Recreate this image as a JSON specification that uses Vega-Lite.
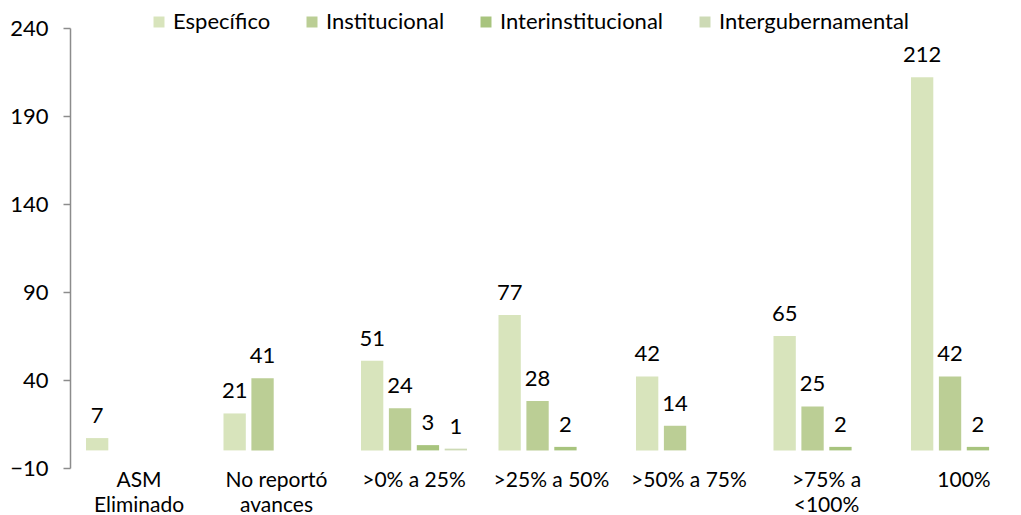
{
  "$schema": "https://vega.github.io/schema/vega-lite/v6.json",
  "width": 951,
  "height": 440,
  "autosize": "none",
  "padding": {"left": 70, "top": 28, "right": 0, "bottom": 47},
  "background": "white",
  "config": {
    "font": "Lato",
    "view": {"stroke": null},
    "axis": {"labelFont": "Lato", "labelColor": "#000000"},
    "legend": {"labelFont": "Lato", "labelColor": "#000000"}
  },
  "data": {
    "values": [
      {"cat": "ASM Eliminado", "serie": "Específico", "v": 7},
      {"cat": "No reportó avances", "serie": "Específico", "v": 21},
      {"cat": "No reportó avances", "serie": "Institucional", "v": 41},
      {"cat": ">0% a 25%", "serie": "Específico", "v": 51},
      {"cat": ">0% a 25%", "serie": "Institucional", "v": 24},
      {"cat": ">0% a 25%", "serie": "Interinstitucional", "v": 3},
      {"cat": ">0% a 25%", "serie": "Intergubernamental", "v": 1},
      {"cat": ">25% a 50%", "serie": "Específico", "v": 77},
      {"cat": ">25% a 50%", "serie": "Institucional", "v": 28},
      {"cat": ">25% a 50%", "serie": "Interinstitucional", "v": 2},
      {"cat": ">50% a 75%", "serie": "Específico", "v": 42},
      {"cat": ">50% a 75%", "serie": "Institucional", "v": 14},
      {"cat": ">75% a <100%", "serie": "Específico", "v": 65},
      {"cat": ">75% a <100%", "serie": "Institucional", "v": 25},
      {"cat": ">75% a <100%", "serie": "Interinstitucional", "v": 2},
      {"cat": "100%", "serie": "Específico", "v": 212},
      {"cat": "100%", "serie": "Institucional", "v": 42},
      {"cat": "100%", "serie": "Interinstitucional", "v": 2}
    ]
  },
  "encoding": {
    "x": {
      "field": "cat",
      "type": "nominal",
      "sort": ["ASM Eliminado", "No reportó avances", ">0% a 25%", ">25% a 50%", ">50% a 75%", ">75% a <100%", "100%"],
      "scale": {"paddingInner": 0.229, "paddingOuter": 0.0727, "align": 0.8},
      "axis": {
        "title": null,
        "domain": false,
        "ticks": false,
        "labelAngle": 0,
        "labelFontSize": 21,
        "labelPadding": 1,
        "labelOverlap": false,
        "labelLimit": 300,
        "labelLineHeight": 25,
        "labelExpr": "datum.value == 'ASM Eliminado' ? ['ASM', 'Eliminado'] : datum.value == 'No reportó avances' ? ['No reportó', 'avances'] : datum.value == '>75% a <100%' ? ['>75% a', '<100%'] : datum.value"
      }
    },
    "xOffset": {
      "field": "serie",
      "type": "nominal",
      "sort": ["Específico", "Institucional", "Interinstitucional", "Intergubernamental"],
      "scale": {"domain": ["Específico", "Institucional", "Interinstitucional", "Intergubernamental"], "paddingInner": 0.2, "paddingOuter": 0}
    }
  },
  "layer": [
    {
      "mark": {"type": "bar"},
      "encoding": {
        "y": {
          "field": "v",
          "type": "quantitative",
          "scale": {"domain": [-10, 240], "nice": false, "zero": false},
          "axis": {
            "title": null,
            "values": [-10, 40, 90, 140, 190, 240],
            "grid": false,
            "domain": true,
            "domainColor": "#8c8c8c",
            "domainWidth": 1.5,
            "ticks": true,
            "tickColor": "#8c8c8c",
            "tickWidth": 1.5,
            "tickSize": 7,
            "labelFontSize": 22,
            "labelPadding": 15
          }
        },
        "y2": {"datum": 0},
        "color": {
          "field": "serie",
          "type": "nominal",
          "sort": ["Específico", "Institucional", "Interinstitucional", "Intergubernamental"],
          "scale": {
            "domain": ["Específico", "Institucional", "Interinstitucional", "Intergubernamental"],
            "range": ["#d8e4bc", "#bbce95", "#a8c47e", "#cddab5"]
          },
          "legend": {
            "title": null,
            "orient": "none",
            "legendX": 78,
            "legendY": -17,
            "direction": "horizontal",
            "symbolType": "square",
            "symbolSize": 121,
            "symbolStrokeWidth": 0,
            "labelFontSize": 22,
            "labelOffset": 3,
            "labelLimit": 400,
            "columnPadding": 30,
            "padding": 0
          }
        }
      }
    },
    {
      "mark": {"type": "text", "baseline": "alphabetic", "dy": -15, "fontSize": 22, "color": "#000000"},
      "encoding": {
        "y": {"field": "v", "type": "quantitative"},
        "text": {"field": "v", "type": "quantitative"}
      }
    },
    {
      "mark": {"type": "rule", "color": "#8c8c8c", "strokeWidth": 1.5},
      "encoding": {"y": {"datum": 0}}
    }
  ]
}
